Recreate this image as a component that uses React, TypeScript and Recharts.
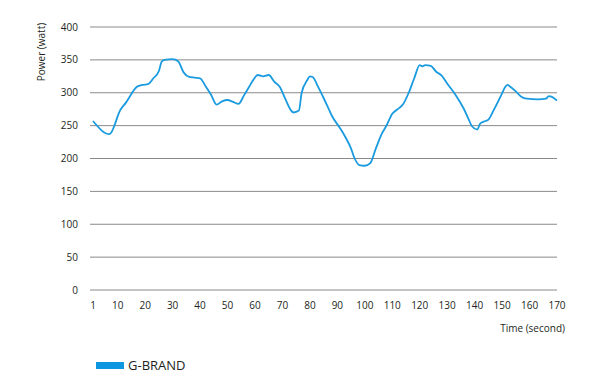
import React from 'react';
import { LineChart, Line, XAxis, YAxis, CartesianGrid, Legend } from 'recharts';

// time (s) and power (W)
const seconds = [
  1, 7, 11, 13, 17, 19, 21, 23, 25, 26, 27, 30, 32, 34, 36, 38, 40, 42, 44, 46,
  48, 50, 52, 54, 56, 58, 59, 61, 63, 65, 67, 69, 71, 73, 74, 76, 77, 79, 80, 81,
  83, 85, 87, 88, 91, 93, 95, 96, 98, 100, 102, 104, 106, 108, 110, 112, 114, 116, 118, 120,
  121, 122, 124, 126, 128, 130, 133, 136, 138, 139, 141, 142, 144, 145, 147, 150, 151, 152, 153, 155,
  157, 159, 163, 166, 167, 168, 170,
];
const power = [
  257, 237, 274, 285, 309, 312, 313, 322, 333, 347, 350, 351, 348, 331, 324, 323, 322, 310, 297, 282,
  287, 289, 286, 283, 296, 310, 317, 327, 325, 327, 317, 309, 291, 274, 270, 273, 300, 319, 325, 324,
  309, 292, 274, 265, 246, 232, 215, 203, 190, 189, 193, 215, 236, 251, 268, 275, 283, 300, 322, 342,
  340, 342, 341, 332, 326, 314, 297, 276, 258, 249, 244, 253, 257, 259, 274, 299, 308, 312, 309, 302,
  294, 291, 290, 291, 295, 294, 288,
];
const xTicks = [1, 10, 20, 30, 40, 50, 60, 70, 80, 90, 100, 110, 120, 130, 140, 150, 160, 170];
const yTicks = [0, 50, 100, 150, 200, 250, 300, 350, 400];
const seriesName = 'G-BRAND';

const data = seconds.map((t, i) => ({ t, power: power[i] }));

const FONT = '"Open Sans", sans-serif';
const BLUE = '#1a9be0';

const LegendBox = () => (
  <div style={{ display: 'flex', alignItems: 'center', fontFamily: FONT, fontSize: 13, color: '#231f20' }}>
    <span style={{ display: 'inline-block', width: 28, height: 7, background: '#0e97e0', marginRight: 4 }} />
    <span>{seriesName}</span>
  </div>
);

export default function App() {
  return (
    <div style={{ position: 'fixed', left: 0, top: 0, width: 600, height: 386, background: '#fff' }}>
      <LineChart width={600} height={386} data={data} margin={{ top: 27, right: 43, bottom: 0, left: 0 }}>
        <CartesianGrid vertical={false} stroke="#8a8a8a" strokeWidth={1} />
        <XAxis
          dataKey="t"
          type="number"
          domain={[1, 170]}
          ticks={xTicks}
          interval={0}
          padding={{ left: 3, right: 0 }}
          axisLine={false}
          tickLine={false}
          tickMargin={6}
          height={96}
          tick={{ fontFamily: FONT, fontSize: 10, fill: '#231f20' }}
          label={{
            content: () => (
              <text x={565} y={332} textAnchor="end" fontFamily={FONT} fontSize={10} fill="#231f20">
                Time (second)
              </text>
            ),
          }}
        />
        <YAxis
          domain={[0, 400]}
          ticks={yTicks}
          interval={0}
          width={90}
          axisLine={false}
          tickLine={false}
          tickMargin={6}
          tick={{ fontFamily: FONT, fontSize: 10, fill: '#231f20' }}
          label={{
            content: () => (
              <text
                x={45}
                y={52}
                transform="rotate(-90 45 52)"
                textAnchor="middle"
                fontFamily={FONT}
                fontSize={10}
                fill="#231f20"
              >
                Power (watt)
              </text>
            ),
          }}
        />
        <Legend
          verticalAlign="middle"
          align="center"
          content={() => <LegendBox />}
          wrapperStyle={{ left: 96, top: 356, width: 200 }}
        />
        <Line
          type="monotone"
          dataKey="power"
          name={seriesName}
          stroke={BLUE}
          strokeWidth={1.8}
          dot={false}
          isAnimationActive={false}
        />
      </LineChart>
    </div>
  );
}
